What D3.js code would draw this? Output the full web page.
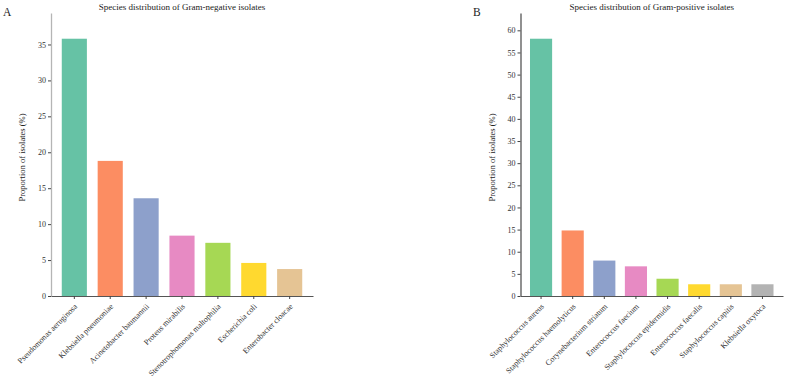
<!DOCTYPE html>
<html>
<head>
<meta charset="utf-8">
<script src="https://cdn.jsdelivr.net/npm/d3@7"></script>
<style>
  body { margin: 0; background: #fff; }
  svg { display: block; font-family: "Liberation Serif", "Times New Roman", serif; }
</style>
</head>
<body>
<svg id="chart" width="786" height="379"></svg>
<script>
// Gram-negative panel
const negSpecies = ["Pseudomonas aeruginosa", "Klebsiella pneumoniae", "Acinetobacter baumannii",
  "Proteus mirabilis", "Stenotrophomonas maltophilia", "Escherichia coli", "Enterobacter cloacae"];
const negValues = [35.8, 18.8, 13.6, 8.4, 7.4, 4.6, 3.75];
const negTicks = [0, 5, 10, 15, 20, 25, 30, 35];

// Gram-positive panel
const posSpecies = ["Staphylococcus aureus", "Staphylococcus haemolyticus", "Corynebacterium striatum",
  "Enterococcus faecium", "Staphylococcus epidermidis", "Enterococcus faecalis",
  "Staphylococcus capitis", "Klebsiella oxytoca"];
const posValues = [58.1, 14.8, 8.0, 6.7, 3.9, 2.65, 2.65, 2.65];
const posTicks = [0, 5, 10, 15, 20, 25, 30, 35, 40, 45, 50, 55, 60];

const set2 = ["#66c2a5", "#fc8d62", "#8da0cb", "#e78ac3", "#a6d854", "#ffd92f", "#e5c494", "#b3b3b3"];

const svg = d3.select("#chart");

function drawPanel(opt) {
  const top = 13, bottom = 296;
  const g = svg.append("g");

  let x = d3.scaleBand()
    .domain(opt.species)
    .range([opt.left, opt.right])
    .paddingInner(0.3)
    .paddingOuter(0.3);
  let y = d3.scaleLinear()
    .domain([0, d3.max(opt.values) * 1.1])
    .range([bottom, top]);

  g.selectAll(".bar")
    .data(opt.values).enter()
    .append("rect")
    .attr("class", "bar")
    .attr("x", (d, i) => x(opt.species[i]))
    .attr("y", d => y(d))
    .attr("width", x.bandwidth())
    .attr("height", d => bottom - y(d))
    .attr("fill", (d, i) => set2[i]);

  // y axis
  let yAxis = g.append("g")
    .attr("transform", `translate(${opt.left},0)`)
    .call(d3.axisLeft(y).tickValues(opt.ticks).tickSize(3).tickPadding(2).tickSizeOuter(0));
  yAxis.select(".domain").attr("stroke", opt.yAxisColor).attr("stroke-width", 1.3);
  yAxis.selectAll(".tick line").attr("stroke", "#444");
  yAxis.selectAll(".tick text")
    .attr("font-size", 8)
    .attr("font-family", "Liberation Serif, serif")
    .attr("fill", "#333");

  // x axis
  let xAxis = g.append("g")
    .attr("transform", `translate(0,${bottom})`)
    .call(d3.axisBottom(x).tickSize(3).tickPadding(3).tickSizeOuter(0));
  xAxis.select(".domain").attr("stroke", "#555").attr("stroke-width", 1.2);
  xAxis.selectAll(".tick line").attr("stroke", "#444");
  xAxis.selectAll(".tick text")
    .attr("font-size", 8)
    .attr("font-family", "Liberation Serif, serif")
    .attr("fill", "#333")
    .attr("text-anchor", "end")
    .attr("x", 0)
    .attr("y", 0)
    .attr("dy", "0.35em")
    .attr("transform", "translate(1.5,9) rotate(-45)");

  // titles and labels
  g.append("text")
    .attr("x", (opt.left + opt.right) / 2)
    .attr("y", 10)
    .attr("text-anchor", "middle")
    .attr("font-size", 9)
    .attr("fill", "#222")
    .text(opt.title);

  g.append("text")
    .attr("transform", `translate(${opt.left - 26},${(top + bottom) / 2 + 3}) rotate(-90)`)
    .attr("text-anchor", "middle")
    .attr("font-size", 8.5)
    .attr("fill", "#222")
    .text("Proportion of isolates (%)");

  g.append("text")
    .attr("x", opt.tagX)
    .attr("y", 16)
    .attr("font-size", 11.5)
    .attr("fill", "#222")
    .text(opt.tag);
}

drawPanel({
  species: negSpecies, values: negValues, ticks: negTicks,
  left: 51, right: 313, title: "Species distribution of Gram-negative isolates",
  tag: "A", tagX: 3, yAxisColor: "#b5b5b5"
});
drawPanel({
  species: posSpecies, values: posValues, ticks: posTicks,
  left: 520.5, right: 783, title: "Species distribution of Gram-positive isolates",
  tag: "B", tagX: 473, yAxisColor: "#555"
});
</script>
</body>
</html>
